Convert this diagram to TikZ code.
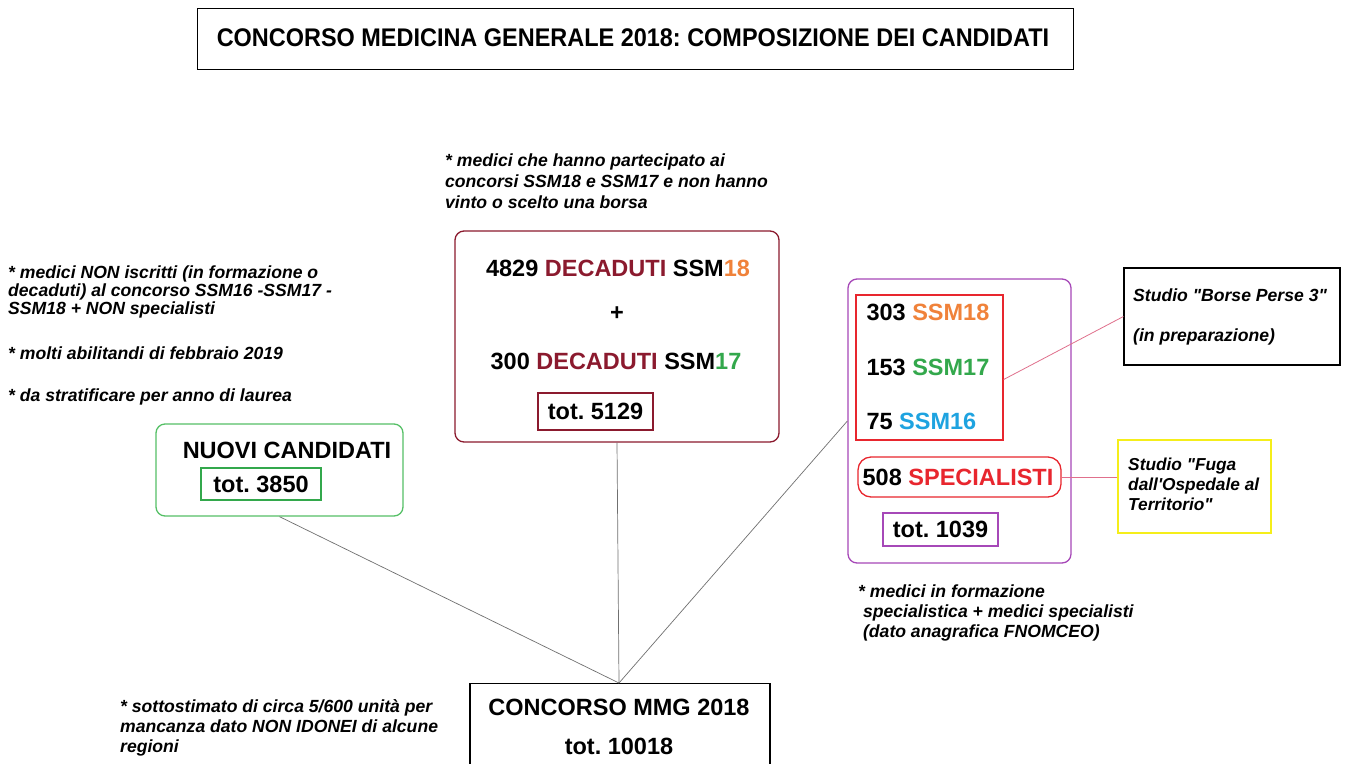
\documentclass[tikz,border=0pt]{standalone}
\usepackage{fontspec}
\setmainfont{Liberation Sans}[Ligatures=TeXOff]
\frenchspacing
\usetikzlibrary{calc}
\definecolor{dred}{HTML}{8B1A2E}
\definecolor{cor}{HTML}{F0823A}
\definecolor{cgr}{HTML}{33A84C}
\definecolor{cbl}{HTML}{1EA3E0}
\definecolor{cred}{HTML}{E8262E}
\definecolor{cpur}{HTML}{A648B8}
\definecolor{cgbox}{HTML}{55C066}
\definecolor{cyel}{HTML}{F5EE1A}
\definecolor{cpink}{HTML}{E0708C}
\definecolor{cline}{HTML}{707070}
\tikzset{
  big/.style={font=\fontsize{23.5}{27}\selectfont\bfseries},
  note/.style={font=\fontsize{17.6}{21}\selectfont\bfseries\itshape, align=left, inner sep=0pt},
  frame/.style={draw, line width=1.2pt, inner sep=0pt},
  conn/.style={draw=cline, line width=0.7pt},
  pconn/.style={draw=cpink, line width=0.8pt},
}
\begin{document}
\begin{tikzpicture}[x=1pt,y=-1pt]
\clip (0,0) rectangle (1351,763);
\fill[white] (0,0) rectangle (1351,763);

% title
\node[frame, line width=1pt, minimum width=876pt, minimum height=61pt] (title) at (635,38.5) {};
\node[font=\fontsize{25.5}{28}\selectfont\bfseries] (titletxt) at (633,38) {\scalebox{0.92}[1]{CONCORSO MEDICINA GENERALE 2018: COMPOSIZIONE DEI CANDIDATI}};

% top note
\node[note, anchor=north west] (notetop) at (445,154) {* medici che hanno partecipato ai\\concorsi SSM18 e SSM17 e non hanno\\vinto o scelto una borsa};

% decaduti box
\node[draw=dred, line width=1.3pt, rounded corners=9pt, minimum width=324pt, minimum height=211pt] (dec) at (617,336.5) {};
\node[big] (d1) at (618,268) {4829 \textcolor{dred}{DECADUTI} SSM\textcolor{cor}{18}};
\node[big] (dplus) at (617,314) {+};
\node[big] (d2) at (616,361) {300 \textcolor{dred}{DECADUTI} SSM\textcolor{cgr}{17}};
\node[big, draw=dred, line width=1.8pt, minimum width=115pt, minimum height=37pt, inner sep=0pt] (dtot) at (595.5,411.5) {tot. 5129};

% left note
\node[note, anchor=north west, font=\fontsize{17.6}{18}\selectfont\bfseries\itshape] (noteleft) at (8,266) {* medici NON iscritti (in formazione o\\decaduti) al concorso SSM16 -SSM17 -\\SSM18 + NON specialisti};
\node[note, anchor=north west] (noteleft2) at (8,347) {* molti abilitandi di febbraio 2019};
\node[note, anchor=north west] (noteleft3) at (8,389) {* da stratificare per anno di laurea};

% nuovi candidati
\node[draw=cgbox, line width=1.3pt, rounded corners=9pt, minimum width=247pt, minimum height=92pt] (nuovi) at (279.5,470) {};
\node[big] (ntxt) at (287,450) {NUOVI CANDIDATI};
\node[big, draw=cgr, line width=1.8pt, minimum width=120pt, minimum height=32pt, inner sep=0pt] (ntot) at (261,484) {tot. 3850};

% purple box
\node[draw=cpur, line width=1.3pt, rounded corners=9pt, minimum width=223pt, minimum height=284pt] (spec) at (959.5,421) {};
\node[draw=cred, line width=1.3pt, minimum width=147pt, minimum height=145pt] (ssm) at (929.5,367.5) {};
\node[big, anchor=west] (s18) at (863,312) {303 \textcolor{cor}{SSM18}};
\node[big, anchor=west] (s17) at (863,367) {153 \textcolor{cgr}{SSM17}};
\node[big, anchor=west] (s16) at (863,421) {75 \textcolor{cbl}{SSM16}};
\node[draw=cred, line width=1.3pt, rounded corners=13pt, minimum width=203pt, minimum height=40pt] (specov) at (959.5,477) {};
\node[big] (stxt) at (958,477) {508 \textcolor{cred}{SPECIALISTI}};
\node[big, draw=cpur, line width=1.8pt, minimum width=115pt, minimum height=33pt, inner sep=0pt] (stot) at (940.5,529.5) {tot. 1039};

% studio boxes
\node[draw, line width=1.2pt, minimum width=216pt, minimum height=97pt] (borse) at (1232,316.5) {};
\node[note, anchor=north west] (b1) at (1133,289) {Studio "Borse Perse 3"};
\node[note, anchor=north west] (b2) at (1133,329) {(in preparazione)};
\node[draw=cyel, line width=1.5pt, minimum width=153pt, minimum height=93pt] (fuga) at (1194.5,486.5) {};
\node[note, anchor=north west, font=\fontsize{17.3}{20}\selectfont\bfseries\itshape] (ftxt) at (1128,458) {Studio "Fuga\\dall'Ospedale al\\Territorio"};

% bottom right note
\node[note, anchor=north west, font=\fontsize{17.6}{20}\selectfont\bfseries\itshape] (noteright) at (858,585) {* medici in formazione\\\ specialistica + medici specialisti\\\ (dato anagrafica FNOMCEO)};

% bottom box
\node[draw, line width=1.2pt, minimum width=300pt, minimum height=100pt, anchor=north] (mmg) at (620,683) {};
\node[big] (m1) at (619,707) {CONCORSO MMG 2018};
\node[big] (m2) at (619,746) {tot. 10018};

% bottom left note
\node[note, anchor=north west, font=\fontsize{17.6}{20}\selectfont\bfseries\itshape] (notebl) at (120,699) {* sottostimato di circa 5/600 unità per\\mancanza dato NON IDONEI di alcune\\regioni};

% connectors
\coordinate (hub) at (619,683);
\coordinate (ssmr) at ($(ssm.east)+(0,12)$);
\draw[conn] (hub) -- (nuovi.south);
\draw[conn] (hub) -- (dec.south);
\draw[conn] (hub) -- (spec.west |- s16);
\draw[pconn] (ssmr) -- (borse.west);
\draw[pconn] (specov.east) -- (fuga.west |- specov.east);
\end{tikzpicture}
\end{document}
